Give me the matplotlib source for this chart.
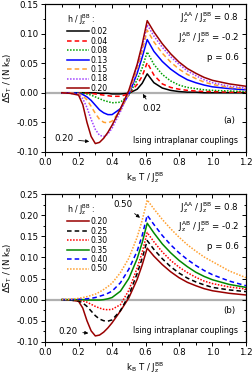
import matplotlib
matplotlib.use("Agg")
import matplotlib.pyplot as plt
from matplotlib.ticker import MultipleLocator, FormatStrFormatter

# temperature grid shared by all curves
T = [0.10, 0.15, 0.20, 0.225, 0.25, 0.275, 0.30, 0.325, 0.35, 0.375, 0.40, 0.45, 0.50,
     0.55, 0.58, 0.61, 0.65, 0.70, 0.75, 0.80, 0.85, 0.90, 0.95, 1.00, 1.10, 1.20]

# panel (a)
h_a = ["0.02", "0.04", "0.08", "0.13", "0.15", "0.18", "0.20"]
s_002 = [0, 0, 0, 0, 0, 0, 0, -0.001, -0.001, -0.001, -0.002, -0.002, -0.001,
         0.006, 0.016, 0.032, 0.017, 0.008, 0.004, 0.002, 0.001, 0.001, 0, 0, 0, 0]
s_004 = [0, 0, 0, 0, -0.001, -0.001, -0.002, -0.003, -0.004, -0.005, -0.006, -0.006, -0.002,
         0.014, 0.028, 0.051, 0.030, 0.015, 0.009, 0.006, 0.004, 0.003, 0.002, 0.002, 0.001, 0.001]
s_008 = [0, 0, 0, -0.001, -0.002, -0.004, -0.007, -0.010, -0.013, -0.015, -0.017, -0.016, -0.004,
         0.022, 0.042, 0.069, 0.048, 0.031, 0.020, 0.013, 0.009, 0.007, 0.005, 0.004, 0.003, 0.002]
s_013 = [0, 0, -0.001, -0.003, -0.007, -0.013, -0.021, -0.029, -0.034, -0.037, -0.037, -0.027, -0.003,
         0.033, 0.060, 0.090, 0.070, 0.053, 0.040, 0.030, 0.022, 0.017, 0.013, 0.010, 0.007, 0.005]
s_015 = [0, 0, -0.002, -0.005, -0.012, -0.023, -0.035, -0.045, -0.050, -0.051, -0.048, -0.030, -0.002,
         0.040, 0.070, 0.106, 0.086, 0.067, 0.052, 0.040, 0.031, 0.024, 0.018, 0.014, 0.009, 0.007]
s_018 = [0, -0.001, -0.003, -0.010, -0.025, -0.045, -0.062, -0.072, -0.074, -0.070, -0.060, -0.032, 0.001,
         0.045, 0.077, 0.115, 0.096, 0.077, 0.061, 0.048, 0.037, 0.029, 0.022, 0.017, 0.011, 0.008]
s_020 = [0, -0.001, -0.004, -0.020, -0.050, -0.074, -0.086, -0.084, -0.077, -0.067, -0.055, -0.027, 0.004,
         0.048, 0.082, 0.122, 0.103, 0.083, 0.066, 0.052, 0.041, 0.033, 0.026, 0.021, 0.015, 0.011]

# panel (b)
h_b = ["0.20", "0.25", "0.30", "0.35", "0.40", "0.50"]
s_025 = [0, -0.001, -0.003, -0.008, -0.016, -0.027, -0.038, -0.046, -0.050, -0.051, -0.048, -0.026, 0.010,
         0.062, 0.098, 0.140, 0.119, 0.097, 0.078, 0.063, 0.051, 0.042, 0.035, 0.029, 0.023, 0.019]
s_030 = [0, 0, -0.001, -0.003, -0.006, -0.011, -0.016, -0.020, -0.023, -0.024, -0.023, -0.012, 0.022,
         0.075, 0.112, 0.159, 0.137, 0.113, 0.093, 0.077, 0.064, 0.053, 0.044, 0.038, 0.030, 0.025]
s_035 = [0, 0, 0, 0, -0.001, -0.001, -0.001, -0.001, 0, 0.002, 0.005, 0.020, 0.050,
         0.097, 0.135, 0.181, 0.158, 0.132, 0.111, 0.093, 0.078, 0.065, 0.055, 0.047, 0.036, 0.029]
s_040 = [0, 0, 0.001, 0.001, 0.002, 0.003, 0.005, 0.008, 0.011, 0.015, 0.020, 0.040, 0.072,
         0.115, 0.152, 0.200, 0.178, 0.152, 0.130, 0.111, 0.095, 0.081, 0.069, 0.059, 0.044, 0.033]
s_050 = [0, 0.001, 0.003, 0.005, 0.007, 0.010, 0.013, 0.018, 0.024, 0.031, 0.039, 0.064, 0.098,
         0.148, 0.188, 0.236, 0.215, 0.190, 0.168, 0.148, 0.130, 0.115, 0.101, 0.090, 0.068, 0.052]

plt.rcParams['font.family'] = ['DejaVu Sans']
plt.rcParams['mathtext.default'] = 'regular'

fig = plt.figure(figsize=(2.52, 3.74), dpi=100)
ax1 = fig.add_axes([0.179, 0.594, 0.797, 0.395])
ax2 = fig.add_axes([0.179, 0.086, 0.797, 0.395])

style_a = [("#000000", "-"), ("#ff0000", (0, (3, 2))), ("#00a000", (0, (1, 1))),
           ("#0000ff", "-"), ("#ffa030", (0, (3, 2))), ("#a040ff", (0, (1, 1))),
           ("#990000", "-")]
style_b = [("#990000", "-"), ("#000000", (0, (3, 2))), ("#ff0000", (0, (1, 1))),
           ("#008800", "-"), ("#0000ff", (0, (3, 2))), ("#ffa030", (0, (1, 1)))]

fs = 6.2
for ax in (ax1, ax2):
    ax.axhline(0, color="#b0b0b0", lw=1.6, zorder=0)

for s, lab, (c, ls) in zip([s_002, s_004, s_008, s_013, s_015, s_018, s_020], h_a, style_a):
    ax1.plot(T, s, color=c, ls=ls, lw=1.1, label=lab)
for s, lab, (c, ls) in zip([s_020, s_025, s_030, s_035, s_040, s_050], h_b, style_b):
    ax2.plot(T, s, color=c, ls=ls, lw=1.1, label=lab)

ax1.set_ylim(-0.10, 0.15)
ax2.set_ylim(-0.10, 0.25)
for ax in (ax1, ax2):
    ax.set_xlim(0.0, 1.2)
    ax.xaxis.set_major_locator(MultipleLocator(0.2))
    ax.xaxis.set_minor_locator(MultipleLocator(0.1))
    ax.yaxis.set_major_locator(MultipleLocator(0.05))
    ax.yaxis.set_minor_locator(MultipleLocator(0.025))
    ax.xaxis.set_major_formatter(FormatStrFormatter('%.1f'))
    ax.yaxis.set_major_formatter(FormatStrFormatter('%.2f'))
    ax.tick_params(which='both', direction='out', labelsize=fs, width=0.7, pad=1.5)
    ax.tick_params(which='major', length=3)
    ax.tick_params(which='minor', length=1.8)
    # mirrored ticks pointing inward on top and right
    tx = ax.secondary_xaxis('top')
    tx.xaxis.set_major_locator(MultipleLocator(0.2))
    tx.xaxis.set_minor_locator(MultipleLocator(0.1))
    tx.tick_params(which='both', direction='in', labeltop=False, width=0.7)
    tx.tick_params(which='major', length=3)
    tx.tick_params(which='minor', length=1.8)
    ty = ax.secondary_yaxis('right')
    ty.yaxis.set_major_locator(MultipleLocator(0.05))
    ty.yaxis.set_minor_locator(MultipleLocator(0.025))
    ty.tick_params(which='both', direction='in', labelright=False, width=0.7)
    ty.tick_params(which='major', length=3)
    ty.tick_params(which='minor', length=1.8)
    for sp in ax.spines.values():
        sp.set_linewidth(0.8)
    ax.set_xlabel(r'k$_B$ T / J$_z^{BB}$', fontsize=fs, labelpad=2.5)
    ax.set_ylabel(r'$\Delta$S$_T$ / (N k$_B$)', fontsize=fs, labelpad=2)
    ax.text(0.965, 0.91, r'J$_z^{AA}$ / J$_z^{BB}$ = 0.8', transform=ax.transAxes,
            ha='right', va='center', fontsize=fs)
    ax.text(0.965, 0.777, r'J$_z^{AB}$ / J$_z^{BB}$ = -0.2', transform=ax.transAxes,
            ha='right', va='center', fontsize=fs)
    ax.text(0.965, 0.642, 'p = 0.6', transform=ax.transAxes, ha='right', va='center', fontsize=fs)
    ax.text(0.70, 0.075, 'Ising intraplanar couplings', transform=ax.transAxes,
            ha='center', va='center', fontsize=5.7)
    leg = ax.legend(loc='upper left', bbox_to_anchor=(0.08, 0.985), frameon=False,
                    fontsize=5.6, title=r'h / J$_z^{BB}$ :', title_fontsize=5.6,
                    handlelength=2.9, handletextpad=0.15, labelspacing=0.06,
                    borderpad=0.2)
    leg._legend_box.align = "left"

ax1.text(0.945, 0.21, '(a)', transform=ax1.transAxes, ha='right', va='center', fontsize=fs)
ax2.text(0.945, 0.21, '(b)', transform=ax2.transAxes, ha='right', va='center', fontsize=fs)

arw = dict(arrowstyle='-|>', color='black', lw=0.6, mutation_scale=5)
ax1.annotate('0.02', xy=(0.575, 0.002), xytext=(0.64, -0.027), fontsize=fs,
             ha='center', va='center', arrowprops=arw)
ax1.annotate('0.20', xy=(0.28, -0.083), xytext=(0.11, -0.078), fontsize=fs,
             ha='center', va='center', arrowprops=arw)
ax2.annotate('0.20', xy=(0.275, -0.080), xytext=(0.135, -0.075), fontsize=fs,
             ha='center', va='center', arrowprops=arw)
ax2.annotate('0.50', xy=(0.58, 0.190), xytext=(0.465, 0.225), fontsize=fs,
             ha='center', va='center', arrowprops=arw)

fig.savefig("out.png", dpi=100)
